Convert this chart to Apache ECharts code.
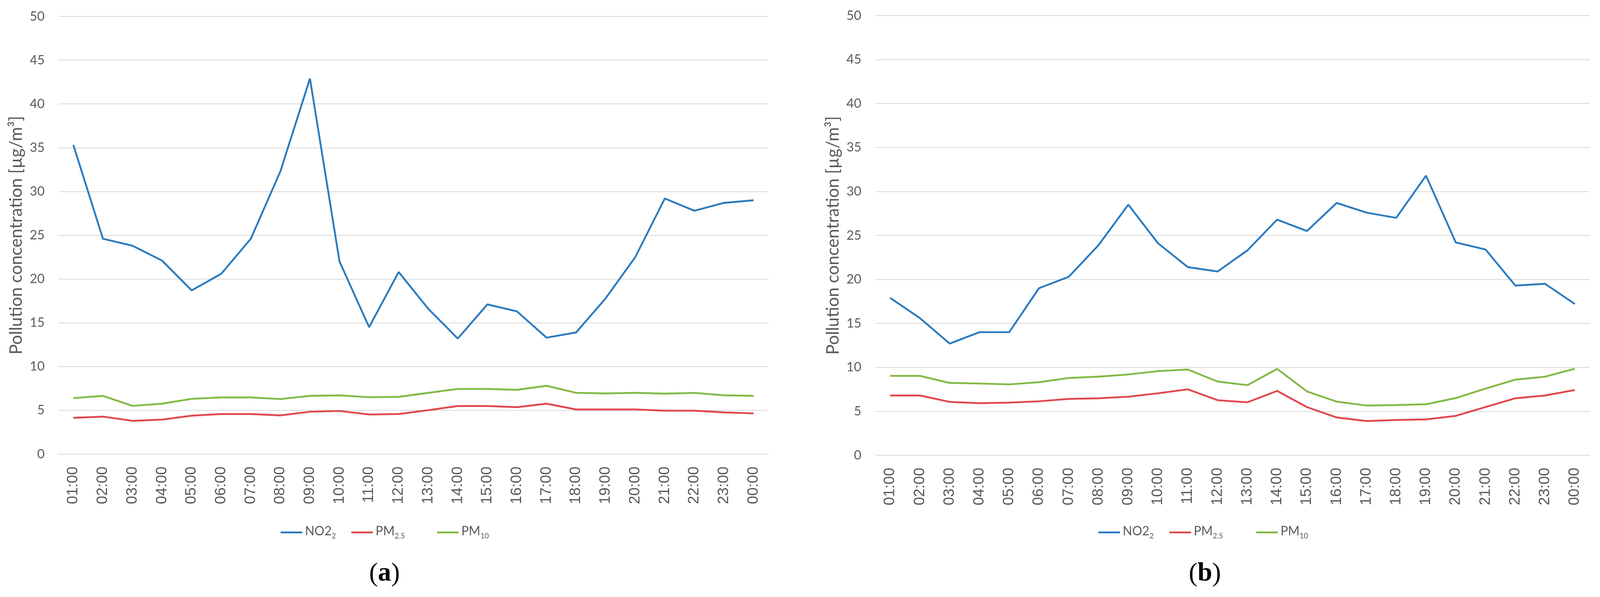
<!DOCTYPE html>
<html>
<head>
<meta charset="utf-8">
<script src="https://cdn.jsdelivr.net/npm/echarts@6/dist/echarts.min.js"></script>
<style>
html,body{margin:0;padding:0;background:#fff;overflow:hidden;}
#chart{width:100vw;height:100vh;}
</style>
</head>
<body>
<div id="chart"></div>
<script>
// ---- data ----
const hours = ['01:00','02:00','03:00','04:00','05:00','06:00','07:00','08:00','09:00','10:00','11:00','12:00',
               '13:00','14:00','15:00','16:00','17:00','18:00','19:00','20:00','21:00','22:00','23:00','00:00'];
const yTicks = [0,5,10,15,20,25,30,35,40,45,50];
const seriesNames = ['NO2', 'PM2.5', 'PM10'];
const panelLabels = ['a', 'b'];
const yAxisTitle = 'Pollution concentration [µg/m³]';

const no2A  = [35.3,24.6,23.8,22.1,18.7,20.6,24.6,32.3,42.9,22.0,14.5,20.8,16.6,13.2,17.1,16.3,13.3,13.9,17.8,22.5,29.2,27.8,28.7,29.0];
const pm25A = [4.14,4.28,3.80,3.94,4.39,4.58,4.58,4.42,4.84,4.93,4.52,4.58,5.02,5.49,5.49,5.36,5.76,5.10,5.10,5.10,4.96,4.96,4.77,4.65];
const pm10A = [6.40,6.65,5.51,5.76,6.31,6.47,6.47,6.29,6.65,6.71,6.50,6.54,7.00,7.44,7.44,7.34,7.80,7.00,6.93,7.00,6.91,6.99,6.72,6.65];

const no2B  = [17.9,15.6,12.7,14.0,14.0,19.0,20.3,23.9,28.5,24.1,21.4,20.9,23.3,26.8,25.5,28.7,27.6,27.0,31.8,24.2,23.4,19.3,19.5,17.2];
const pm25B = [6.80,6.80,6.07,5.92,5.99,6.14,6.41,6.48,6.66,7.05,7.50,6.26,6.02,7.32,5.48,4.30,3.89,4.01,4.08,4.48,5.48,6.48,6.80,7.42];
const pm10B = [9.03,9.03,8.23,8.16,8.06,8.31,8.79,8.94,9.19,9.57,9.75,8.39,7.97,9.82,7.26,6.10,5.66,5.71,5.80,6.51,7.58,8.60,8.94,9.85];

// ---- layout (designed on a 4369 x 1529 canvas, scaled to the window) ----
const W = window.innerWidth || 4369, H = window.innerHeight || 1529;
const sx = W / 4369, sy = H / 1529, sf = Math.min(sx, sy);
const X = v => v * sx, Y = v => v * sy, F = v => v * sf;

const colors = ['#2b7bbf', '#df4a4d', '#83b946'];
const textGray = '#595959';
const gridGray = '#d9d9d9';

const panels = [
  {data: [no2A, pm25A, pm10A], grid: {left: 160, top: 42, width: 1938, height: 1121},
   legendLeft: [761, 954, 1188], captionX: 1050},
  {data: [no2B, pm25B, pm10B], grid: {left: 2390, top: 40, width: 1951, height: 1126},
   legendLeft: [2994, 3188, 3425], captionX: 3290}
];

const legendRich = {
  m: {fontFamily: 'Lato', fontSize: F(34), color: textGray, lineHeight: F(40), verticalAlign: 'top'},
  s: {fontFamily: 'Lato', fontSize: F(20), color: textGray, lineHeight: F(20), padding: [F(26),0,0,0], verticalAlign: 'bottom'}
};
function legendFmt(name) {
  if (name === 'NO2') return '{m|NO2}{s|2}';
  if (name === 'PM2.5') return '{m|PM}{s|2.5}';
  if (name === 'PM10') return '{m|PM}{s|10}';
  return name;
}

const option = {
  backgroundColor: '#fff',
  animation: false,
  grid: [], xAxis: [], yAxis: [], series: [], legend: [], graphic: []
};

panels.forEach((p, i) => {
  option.grid.push({left: X(p.grid.left), top: Y(p.grid.top), width: X(p.grid.width), height: Y(p.grid.height), containLabel: false});
  option.xAxis.push({
    type: 'category', gridIndex: i, data: hours, boundaryGap: true,
    axisLine: {show: true, lineStyle: {color: gridGray, width: F(2)}},
    axisTick: {show: false},
    axisLabel: {rotate: 90, margin: Y(32), color: textGray, fontFamily: 'Liberation Sans', fontSize: F(41), interval: 0}
  });
  option.yAxis.push({
    type: 'value', gridIndex: i,
    min: yTicks[0], max: yTicks[yTicks.length - 1], interval: yTicks[1] - yTicks[0],
    axisLine: {show: false}, axisTick: {show: false},
    splitLine: {show: true, lineStyle: {color: gridGray, width: F(2)}},
    axisLabel: {margin: X(38), color: textGray, fontFamily: 'Lato', fontSize: F(35)},
    name: yAxisTitle, nameLocation: 'middle', nameGap: X(92),
    nameTextStyle: {color: textGray, fontFamily: 'Lato', fontSize: F(47)}
  });
  p.data.forEach((vals, k) => {
    option.series.push({
      type: 'line', name: seriesNames[k], xAxisIndex: i, yAxisIndex: i,
      data: vals, symbol: 'none', smooth: false,
      lineStyle: {color: colors[k], width: F(5)},
      itemStyle: {color: colors[k]}
    });
  });
  seriesNames.forEach((nm, k) => {
    option.legend.push({
      data: [nm], left: X(p.legendLeft[k]), top: Y(1334), orient: 'horizontal',
      icon: 'rect', itemWidth: X(59), itemHeight: F(5), itemGap: 0,
      selectedMode: false, formatter: legendFmt,
      textStyle: {color: textGray, rich: legendRich, padding: [0,0,0,F(2)]}
    });
  });
  option.graphic.push({
    type: 'text', x: X(p.captionX), y: Y(1470),
    style: {
      text: '({b|' + panelLabels[i] + '})',
      rich: {b: {fontFamily: 'Liberation Serif', fontSize: F(72), fontWeight: 'bold', fill: '#000'}},
      font: F(72) + 'px "Liberation Serif"', fill: '#000',
      textAlign: 'center', textVerticalAlign: 'middle'
    }
  });
});

const chart = echarts.init(document.getElementById('chart'), null, {renderer: 'canvas', width: W, height: H});
chart.setOption(option);
</script>
</body>
</html>
